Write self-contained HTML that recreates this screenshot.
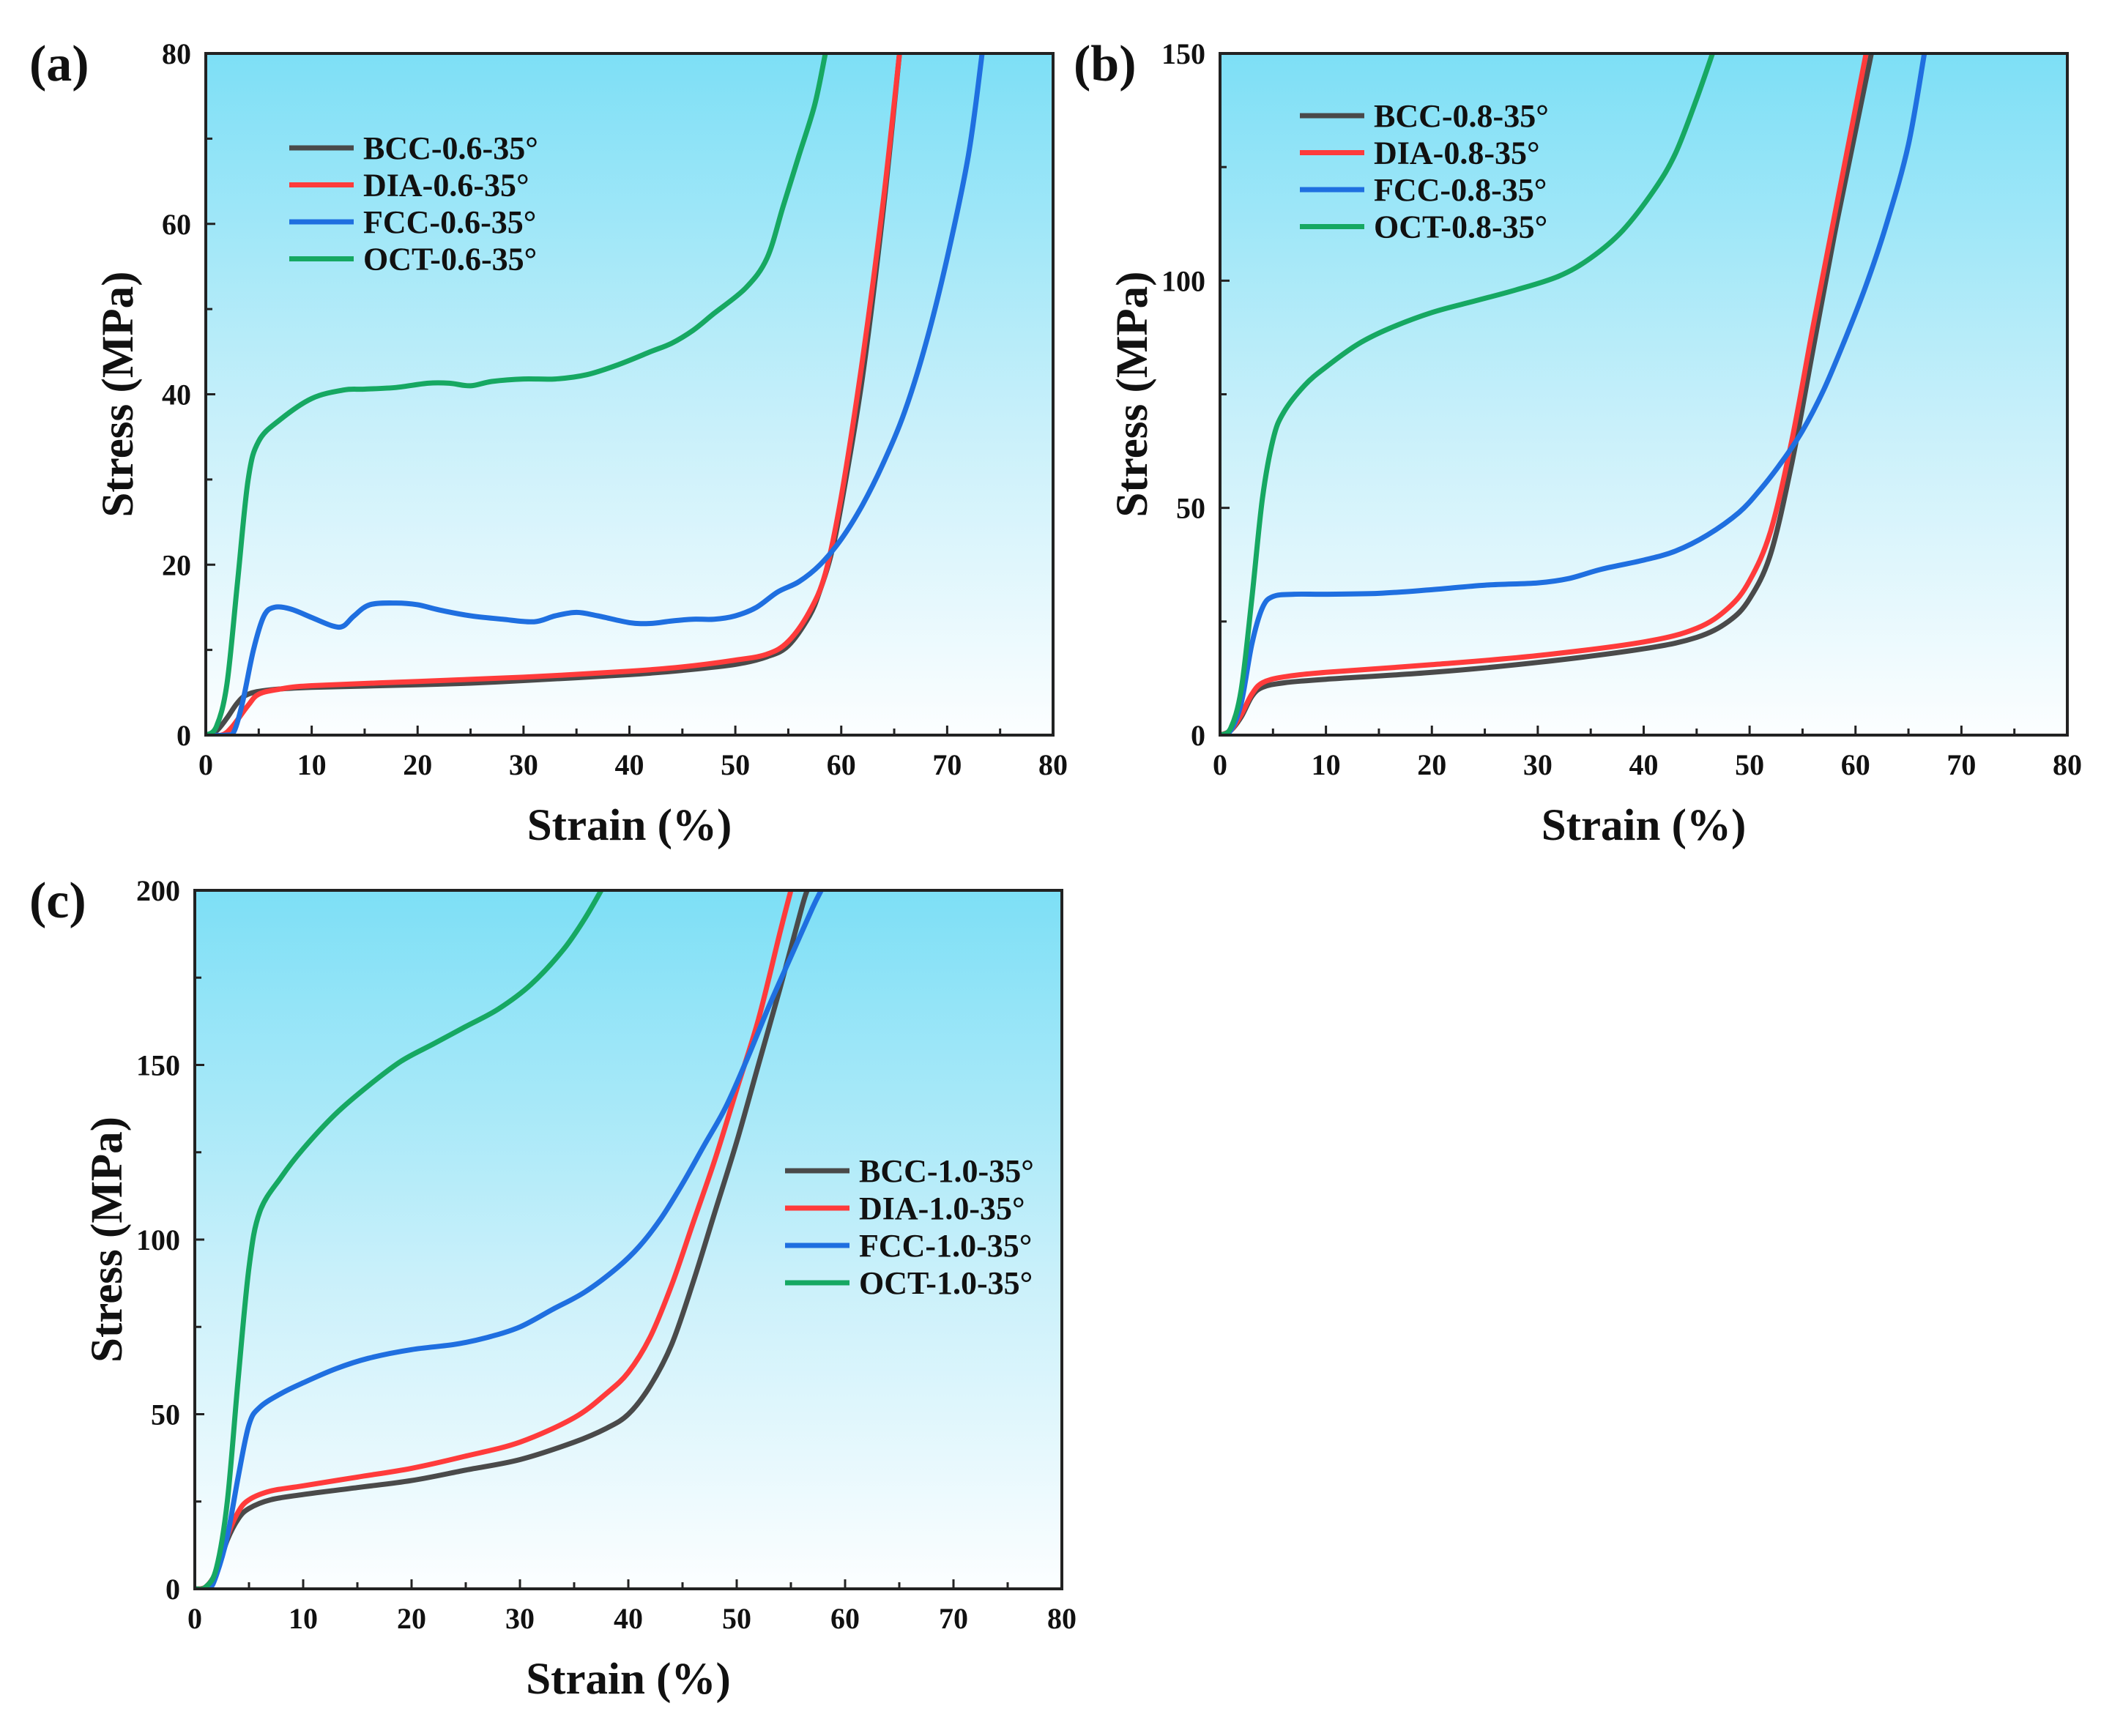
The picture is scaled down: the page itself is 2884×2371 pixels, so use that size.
<!DOCTYPE html>
<html><head><meta charset="utf-8">
<style>
html,body{margin:0;padding:0;background:#fff;}
svg{display:block;font-family:"Liberation Serif",serif;font-weight:bold;}
</style></head>
<body>
<svg id="fig" width="2884" height="2371" viewBox="0 0 2884 2371" xmlns="http://www.w3.org/2000/svg">
<defs>
<linearGradient id="bg" x1="0" y1="0" x2="0" y2="1">
<stop offset="0" stop-color="#7ddff6"/>
<stop offset="0.55" stop-color="#c9f0fa"/>
<stop offset="1" stop-color="#fcfeff"/>
</linearGradient>
</defs>
</svg>
<script>
const seriesNames=["BCC","DIA","FCC","OCT"];
const colors=["#4a4a4a","#ff3b3b","#1f6fe0","#16a862"];
const xTicks=[0,10,20,30,40,50,60,70,80];
const yTicksA=[0,20,40,60,80];
const yTicksB=[0,50,100,150];
const yTicksC=[0,50,100,150,200];
// panel a data [strain, stress]
const aBCC=[[0,0],[1,0.5],[2,2],[3,3.8],[4,4.8],[6,5.3],[10,5.6],[20,5.9],[25,6.1],[30,6.4],[40,7.1],[45,7.6],[50,8.3],[53,9.2],[55,10.5],[57,14],[58,17],[59,21],[60,27],[62,42],[64,62],[65.5,80]];
const aDIA=[[0,0],[1.5,0],[2.5,1],[4,3.5],[5,4.8],[7,5.4],[10,5.8],[20,6.3],[30,6.8],[40,7.5],[45,8],[50,8.8],[53,9.5],[55,11],[57,14.5],[58.5,19],[60,28],[62,44],[64,63],[65.5,80]];
const aFCC=[[0,0],[2,0],[2.7,0.5],[3.5,4],[4.5,10],[5.5,14],[6.5,15],[8,14.8],[10,13.8],[12,12.8],[13,12.8],[14,14],[15.5,15.3],[18,15.5],[20,15.3],[22,14.7],[25,14],[28,13.6],[31,13.3],[33,14],[35,14.4],[37,14],[40,13.2],[42,13.1],[44,13.4],[46,13.6],[48,13.6],[50,14],[52,15],[54,16.8],[56,18],[58,20],[60,23],[62,27],[64,32],[66,38],[68,46],[70,56],[72,68],[73.3,80]];
const aOCT=[[0,0],[1,1],[2,6],[3,18],[4,30],[5,34.5],[7,37],[10,39.5],[13,40.5],[15,40.6],[18,40.8],[21,41.3],[23,41.3],[25,41],[27,41.5],[30,41.8],[33,41.8],[36,42.3],[39,43.5],[42,45],[44,46],[46,47.5],[48,49.5],[51,52.5],[53,56],[54.5,62],[56,68],[57.5,74],[58.5,80]];
// panel b
const bBCC=[[0,0],[1,1],[2,4],[3,8.5],[4,10.5],[6,11.5],[10,12.3],[20,13.8],[30,16],[40,19],[45,21.5],[48,25],[50,30],[52,40],[54,60],[56,85],[58,110],[60,133],[61.5,150]];
const bDIA=[[0,0],[1,1],[2,4.5],[3,9],[4,11.5],[6,12.8],[10,13.8],[20,15.5],[30,17.5],[40,20.5],[45,23.5],[48,28],[50,34],[52,45],[54,65],[56,90],[58,114],[60,138],[61,150]];
const bFCC=[[0,0],[1,1],[2,7],[3,20],[4,28],[5,30.5],[7,31],[10,31],[15,31.2],[20,32],[25,33],[30,33.5],[33,34.5],[36,36.5],[40,38.5],[43,40.5],[46,44],[49,49],[51,54],[53,60],[55,67],[57,76],[59,87],[61,99],[63,113],[65,130],[66.5,150]];
const bOCT=[[0,0],[1,1.5],[2,10],[3,30],[4,52],[5,65],[6,71],[8,77],[10,81],[13,86],[16,89.5],[20,93],[24,95.5],[28,98],[32,101],[35,105],[38,111],[41,120],[43,128],[45,140],[46.5,150]];
// panel c
const cBCC=[[0,0],[1,0.5],[2,5],[3,14],[4,20],[5,23],[7,25.5],[10,27],[15,29],[20,31],[25,34],[30,37],[35,42],[38,46],[40,50],[42,58],[44,70],[46,88],[48,108],[50,128],[52,150],[54,172],[56,195],[56.5,200]];
const cDIA=[[0,0],[1,0.5],[2,5],[3,15],[4,22],[5,25.5],[7,28],[10,29.5],[15,32],[20,34.5],[25,38],[30,42],[35,49],[38,56],[40,62],[42,72],[44,87],[46,105],[48,123],[50,143],[52,163],[54,188],[55,200]];
const cFCC=[[0,0],[1.3,0],[2,4],[3,15],[4,32],[5,47],[6,52],[8,56],[10,59],[13,63],[16,66],[20,68.5],[24,70],[27,72],[30,75],[33,80],[36,85],[39,92],[41,98],[43,106],[45,116],[47,127],[49,138],[51,152],[53,167],[55,181],[57,195],[57.8,200]];
const cOCT=[[0,0],[1,0.5],[2,6],[3,25],[4,60],[5,92],[6,108],[8,118],[10,126],[13,136],[16,144],[19,151],[22,156],[25,161],[28,166],[31,173],[34,183],[36,192],[37.5,200]];

const NS="http://www.w3.org/2000/svg";
const svg=document.getElementById("fig");
function mk(tag,attrs,parent){const e=document.createElementNS(NS,tag);for(const k in attrs)e.setAttribute(k,attrs[k]);(parent||svg).appendChild(e);return e;}
function smooth(pts){let d="M"+pts[0][0].toFixed(1)+","+pts[0][1].toFixed(1);
 for(let i=0;i<pts.length-1;i++){const p0=pts[Math.max(0,i-1)],p1=pts[i],p2=pts[i+1],p3=pts[Math.min(pts.length-1,i+2)];
  const c1=[p1[0]+(p2[0]-p0[0])/6,p1[1]+(p2[1]-p0[1])/6],c2=[p2[0]-(p3[0]-p1[0])/6,p2[1]-(p3[1]-p1[1])/6];
  d+=" C"+c1[0].toFixed(1)+","+c1[1].toFixed(1)+" "+c2[0].toFixed(1)+","+c2[1].toFixed(1)+" "+p2[0].toFixed(1)+","+p2[1].toFixed(1);}
 return d;}

function panel(id,label,labelX,L,R,T,B,yMax,yTicks,data,tag,legX,legY,legDy){
 const g=mk("g",{});
 
 
 const xs=v=>L+(v/80)*(R-L), ys=v=>B-(v/yMax)*(B-T);
 const bg=mk("rect",{x:L,y:T,width:R-L,height:B-T,fill:"url(#bg)"},g);
 
 
 const cp=mk("clipPath",{id:"clip"+id},g);mk("rect",{x:L,y:T-2,width:R-L,height:B-T+2},cp);
 data.forEach((s,i)=>{
  const p=mk("path",{d:smooth(s.map(q=>[xs(q[0]),ys(q[1])])),fill:"none",stroke:colors[i],"stroke-width":7,"stroke-linejoin":"round","clip-path":"url(#clip"+id+")"},g);
  
  
 });
 for(let v=0;v<=80;v+=5){const x=xs(v);const len=(v%10===0)?13:9;mk("line",{x1:x,y1:B,x2:x,y2:B-len,stroke:"#222","stroke-width":3},g);}
 const step=yTicks[1]-yTicks[0];
 for(let v=0;v<=yMax+0.001;v+=step/2){const y=ys(v);const len=(Math.abs(v/step-Math.round(v/step))<0.01)?13:9;mk("line",{x1:L,y1:y,x2:L+len,y2:y,stroke:"#222","stroke-width":3},g);}
 xTicks.forEach(v=>{const t=mk("text",{x:xs(v),y:B+54,"text-anchor":"middle","font-size":40,fill:"#111"},g);t.textContent=v;
  });
 yTicks.forEach(v=>{const t=mk("text",{x:L-20,y:ys(v)+14,"text-anchor":"end","font-size":40,fill:"#111"},g);t.textContent=v;
  });
 const fr=mk("rect",{x:L,y:T,width:R-L,height:B-T,fill:"none",stroke:"#222","stroke-width":4},g);
 
 const xt=mk("text",{x:(L+R)/2,y:B+143,"text-anchor":"middle","font-size":61,fill:"#111"},g);xt.textContent="Strain (%)";
 
 const yx=L-100, yy=(T+B)/2;
 const yt=mk("text",{x:yx,y:yy,"text-anchor":"middle","font-size":61,fill:"#111",transform:"rotate(-90 "+yx+" "+yy+")"},g);yt.textContent="Stress (MPa)";
 
 const pl=mk("text",{x:labelX,y:T+37,"font-size":70,fill:"#111"},g);pl.textContent=label;
 
 seriesNames.forEach((n,i)=>{const y=legY+i*legDy;
  const ln=mk("line",{x1:legX,y1:y,x2:legX+88,y2:y,stroke:colors[i],"stroke-width":7},g);
  
  const t=mk("text",{x:legX+101,y:y+15,"font-size":44,fill:"#111"},g);t.textContent=n+"-"+tag+"-35°";
  });
}
panel("a","(a)",40,281,1438,73,1004,80,yTicksA,[aBCC,aDIA,aFCC,aOCT],"0.6",395,202,50.5);
panel("b","(b)",1466,1666,2823,73,1004,150,yTicksB,[bBCC,bDIA,bFCC,bOCT],"0.8",1775,158,50.5);
panel("c","(c)",40,266,1450,1216,2170,200,yTicksC,[cBCC,cDIA,cFCC,cOCT],"1.0",1072,1599,51);
</script>
</body></html>
